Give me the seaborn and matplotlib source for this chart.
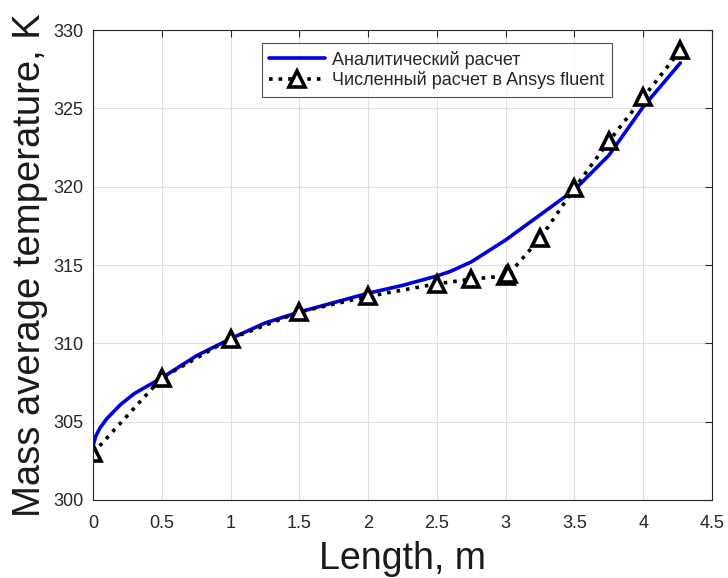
import seaborn as sns
import numpy as np
import pandas as pd
import matplotlib
matplotlib.use("Agg")
import matplotlib.pyplot as plt

# analytic curve
x_analytic = [0, 0.02, 0.05, 0.1, 0.2, 0.3, 0.5, 0.75, 1.0, 1.25, 1.5, 1.75,
              2.0, 2.25, 2.5, 2.6, 2.75, 3.0, 3.25, 3.5, 3.75, 4.0, 4.27]
t_analytic = [303.5, 304.1, 304.6, 305.2, 306.1, 306.8, 307.8, 309.2, 310.3, 311.3,
              312.0, 312.6, 313.2, 313.7, 314.3, 314.6, 315.2, 316.6, 318.2, 319.8,
              322.0, 325.1, 327.9]

# Ansys fluent points
x_fluent = [0, 0.5, 1.0, 1.5, 2.0, 2.5, 2.75, 3.0, 3.02, 3.25, 3.5, 3.75, 4.0, 4.27]
t_fluent = [303.0, 307.8, 310.3, 312.0, 313.0, 313.8, 314.1, 314.3, 314.4, 316.7,
            319.9, 322.9, 325.7, 328.7]

df_a = pd.DataFrame({"x": x_analytic, "t": t_analytic})
df_f = pd.DataFrame({"x": x_fluent, "t": t_fluent})

sns.set_style("white")
plt.rcParams["font.family"] = ["Liberation Sans", "DejaVu Sans"]

fig, ax = plt.subplots(figsize=(7.28, 5.78), dpi=100)
fig.subplots_adjust(left=0.128, right=0.978, top=0.948, bottom=0.135)

sns.lineplot(data=df_a, x="x", y="t", ax=ax, color="#0000dd", linewidth=2.6,
             label="Аналитический расчет", sort=False)
sns.lineplot(data=df_f, x="x", y="t", ax=ax, color="black", linewidth=2.6,
             linestyle=":", marker="^", markersize=11, markerfacecolor="white",
             markeredgecolor="black", markeredgewidth=2.6,
             label="Численный расчет в Ansys fluent", sort=False)

ax.set_xlim(0, 4.5)
ax.set_ylim(300, 330)
ax.set_xticks(np.arange(0, 4.51, 0.5))
ax.set_xticklabels(["0", "0.5", "1", "1.5", "2", "2.5", "3", "3.5", "4", "4.5"])
ax.set_yticks(np.arange(300, 331, 5))
ax.grid(True, color="#e0e0e0", linewidth=0.8)
ax.set_axisbelow(True)
ax.tick_params(direction="in", length=5, width=0.8, colors="#262626",
               labelsize=13, top=True, right=True)
ax.tick_params(axis="x", pad=11)
ax.tick_params(axis="y", pad=7)
for s in ax.spines.values():
    s.set_color("#262626")
    s.set_linewidth(0.8)

ax.set_xlabel("Length, m", fontsize=27, color="#1a1a1a", labelpad=6)
ax.set_ylabel("Mass average temperature, K", fontsize=27.5, color="#1a1a1a", labelpad=4)

leg = ax.legend(loc="upper center", bbox_to_anchor=(0.555, 0.983), fontsize=13,
                frameon=True, fancybox=False, edgecolor="#262626",
                handlelength=3.1, borderpad=0.4, labelspacing=0.15, handletextpad=0.4,
                borderaxespad=0.3)
leg.get_frame().set_linewidth(0.8)

fig.savefig("out.png", dpi=100)
